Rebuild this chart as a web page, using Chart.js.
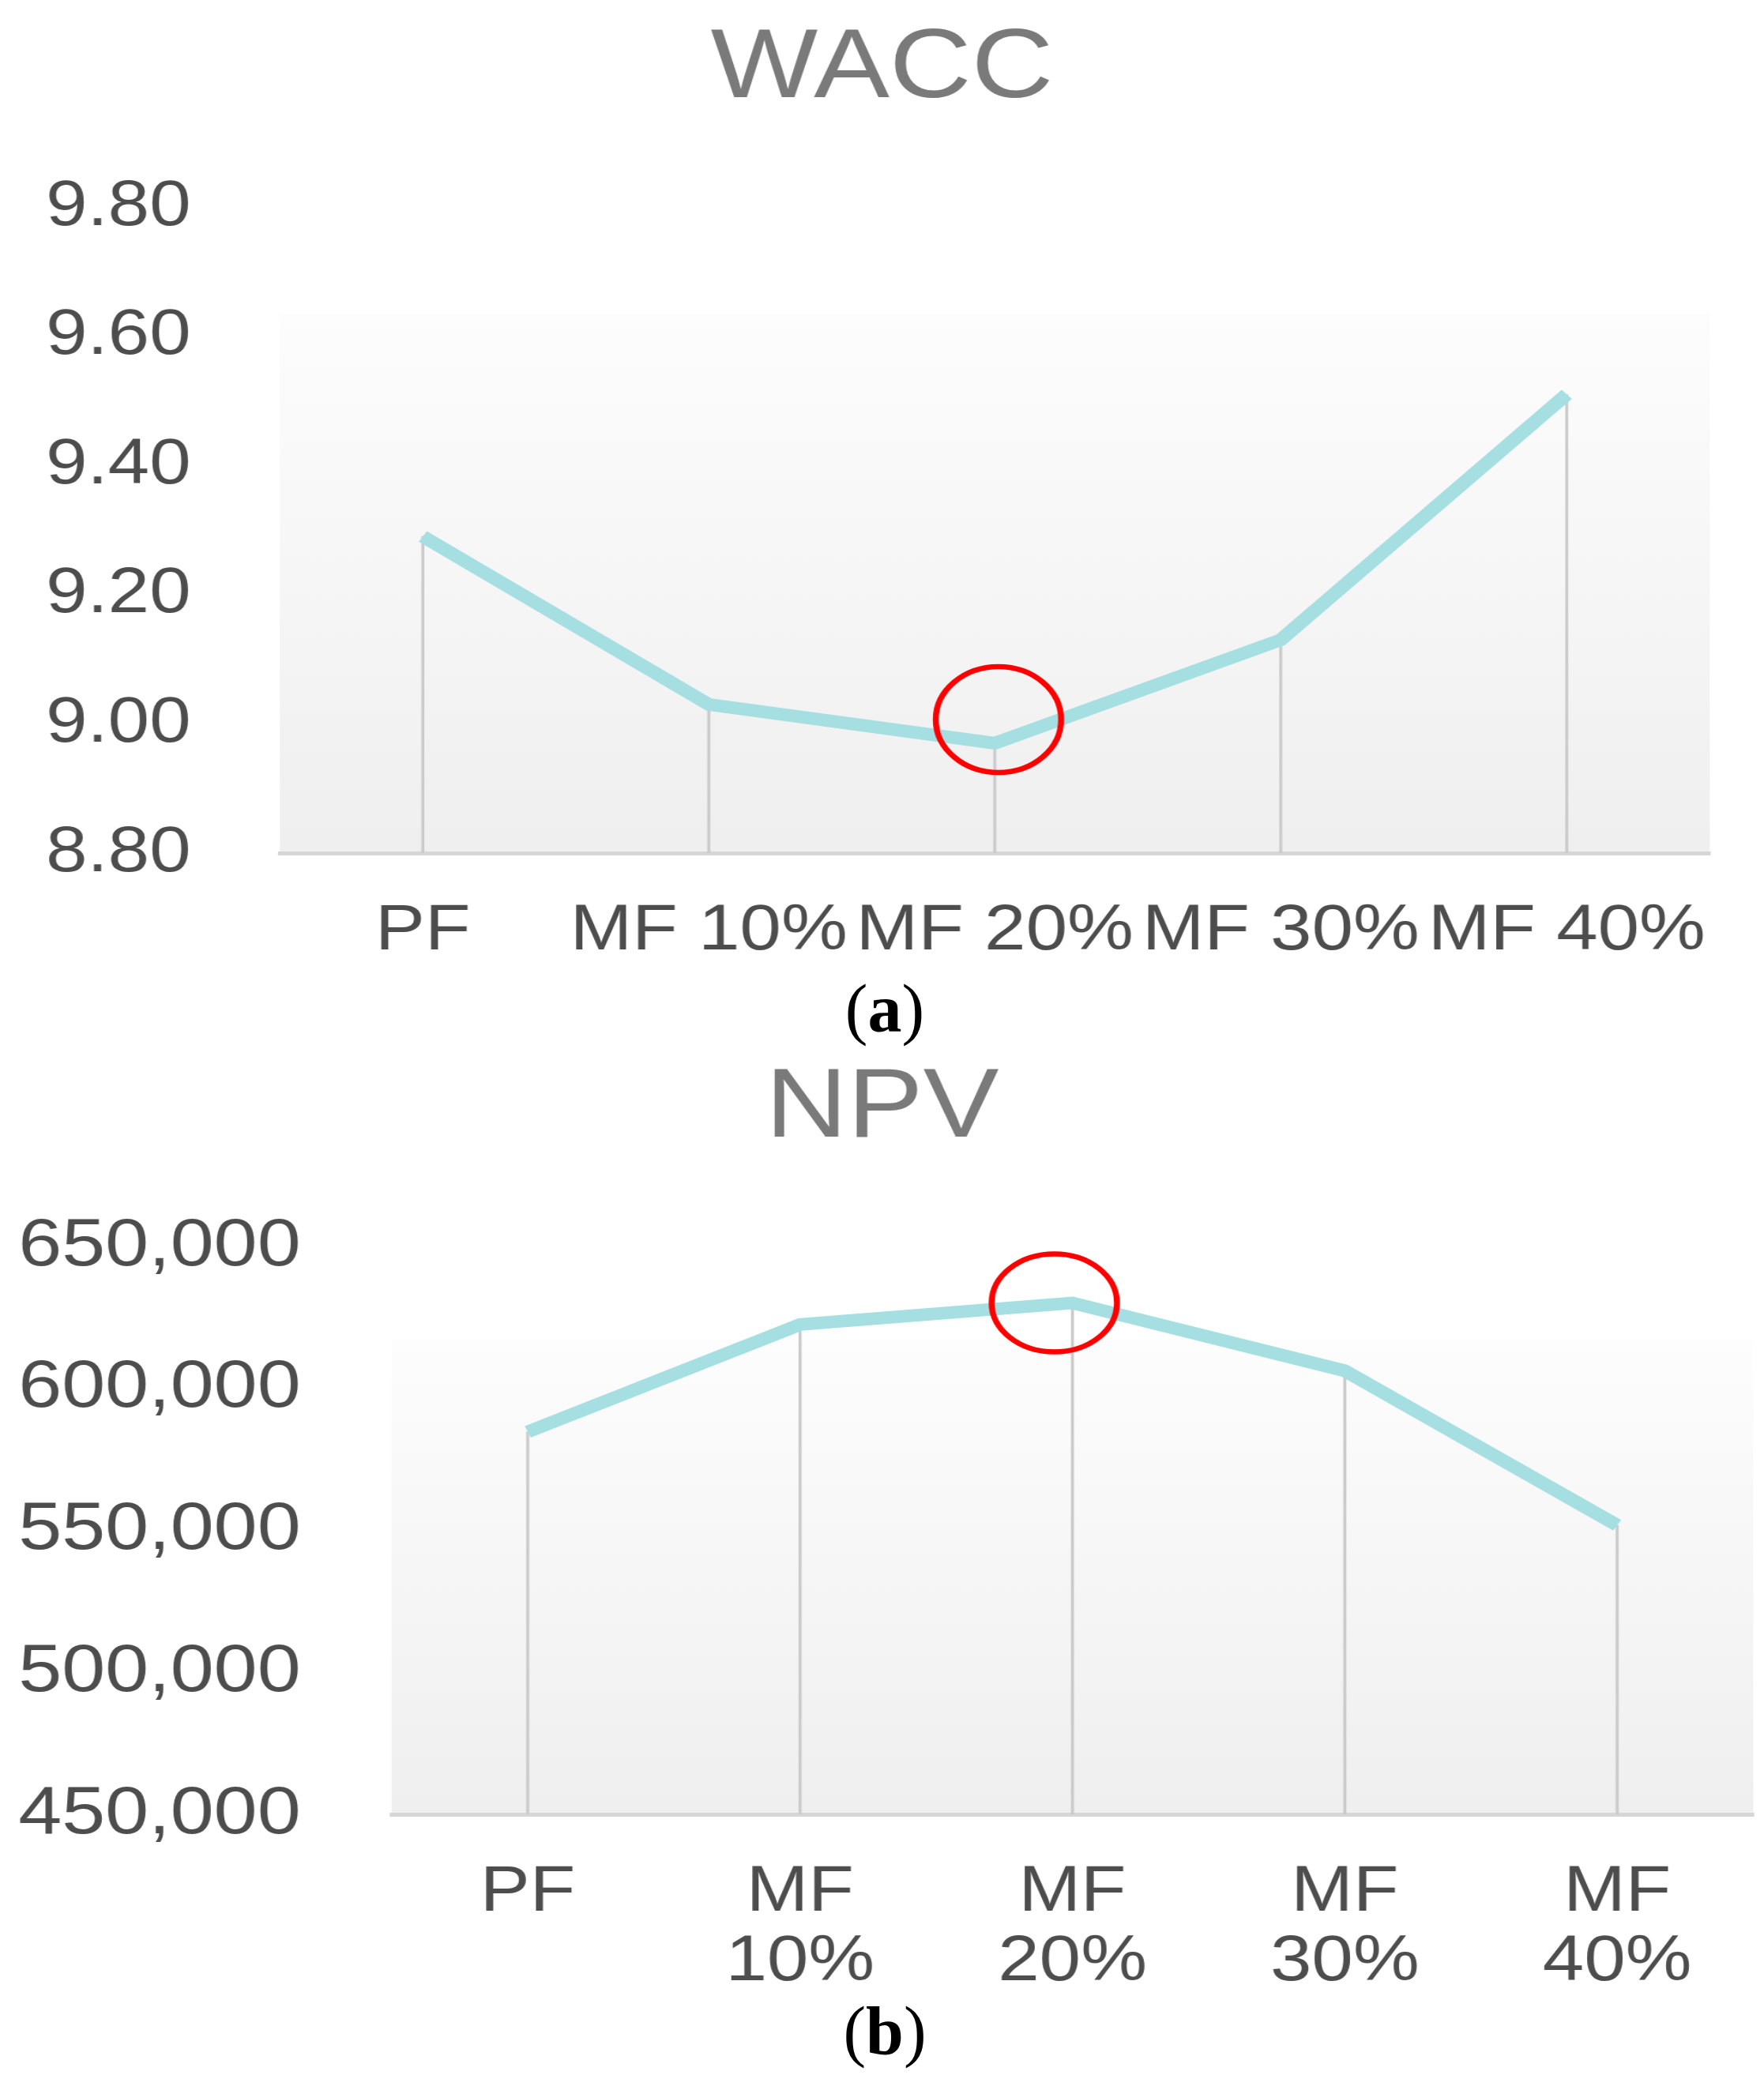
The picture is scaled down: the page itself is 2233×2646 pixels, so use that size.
<!DOCTYPE html>
<html>
<head>
<meta charset="utf-8">
<script src="https://cdn.jsdelivr.net/npm/chart.js@4"></script>
<style>
  body { margin: 0; background: #fff; width: 2233px; height: 2646px; overflow: hidden; position: relative; }
  /* the source figure is stretched sideways, so each panel is drawn narrow and scaled in x */
  .panel { position: absolute; left: 0; width: 1942px; transform: scaleX(1.15); transform-origin: 0 0; }
  .sub { position: absolute; left: 920px; width: 400px; text-align: center; font: 86px/86px "Liberation Serif", "Times New Roman", serif; color: #000; z-index: 2; }
</style>
</head>
<body>
<div class="panel" style="top:0;height:1250px;"><canvas id="chart-wacc"></canvas></div>
<div class="panel" style="top:1300px;height:1346px;"><canvas id="chart-npv"></canvas></div>
<div class="sub" style="top:1234px;">(<b>a</b>)</div>
<div class="sub" style="top:2528px;">(<b>b</b>)</div>

<script>
/* =================================================
   DATA
================================================= */
const waccLabels = ['PF', 'MF 10%', 'MF 20%', 'MF 30%', 'MF 40%'];
const waccValues = [9.29, 9.03, 8.97, 9.13, 9.51];
const waccTicks = { min: 8.8, max: 9.8, step: 0.2 };

const npvLabels = ['PF', ['MF', '10%'], ['MF', '20%'], ['MF', '30%'], ['MF', '40%']];
const npvValues = [584700, 622500, 630100, 606200, 551800];
const npvTicks = { min: 450000, max: 650000, step: 50000 };

/* =================================================
   PLUGINS
================================================= */
const FONT = '"Liberation Sans", Arial, Helvetica, sans-serif';
const LINE_COLOR = '#a6dfe2';

// faint grey gradient behind the plot, starting a bit below the top of the area
const plotBg = {
  id: 'plotBg',
  beforeDraw(chart) {
    const { ctx, chartArea: a } = chart;
    const top = a.top + (a.bottom - a.top) * 0.165;
    const g = ctx.createLinearGradient(0, top, 0, a.bottom);
    g.addColorStop(0, '#fdfdfd');
    g.addColorStop(1, '#efefef');
    ctx.save();
    ctx.fillStyle = g;
    ctx.fillRect(a.left, top, a.right - a.left, a.bottom - top);
    ctx.restore();
  }
};

// red ring around the optimum point
const markPlugin = {
  id: 'mark',
  afterDatasetsDraw(chart, args, opts) {
    const meta = chart.getDatasetMeta(opts.dataset);
    const pt = meta.data[opts.index];
    if (!pt) return;
    const { ctx } = chart;
    ctx.save();
    ctx.strokeStyle = '#ff0000';
    ctx.lineWidth = 6.5;
    ctx.beginPath();
    ctx.ellipse(pt.x + opts.dx, pt.y + opts.dy, opts.rx, opts.ry, 0, 0, Math.PI * 2);
    ctx.stroke();
    ctx.restore();
  }
};

function makeChart(id, labels, values, t, cfg) {
  const ctx = document.getElementById(id);
  return new Chart(ctx, {
    type: 'line',
    data: {
      labels,
      datasets: [
        { type: 'line', data: values, borderColor: LINE_COLOR, borderWidth: 16, pointRadius: 0,
          tension: 0, borderJoinStyle: 'miter', borderCapStyle: 'butt', fill: false, order: 1 },
        { type: 'bar', data: values, backgroundColor: '#cbcbcb', barThickness: 2.6, order: 2 }
      ]
    },
    options: {
      responsive: true, maintainAspectRatio: false, animation: false,
      layout: { padding: 0 },
      plugins: {
        legend: { display: false },
        tooltip: { enabled: false },
        title: {
          display: true, text: cfg.title, color: '#7a7a7a',
          font: { family: FONT, size: 125, weight: 'normal', lineHeight: 1 },
          padding: { top: cfg.titleTop, bottom: cfg.titleBottom }
        },
        mark: cfg.mark
      },
      scales: {
        x: {
          offset: true,
          grid: { display: false },
          border: { display: true, color: '#d6d6d6', width: 5 },
          ticks: { color: '#4d4d4d', padding: 48, maxRotation: 0, autoSkip: false,
                   font: { family: FONT, size: 82, lineHeight: 1.07 } },
          afterFit(s) { s.height = cfg.xHeight; s.paddingLeft = 0; s.paddingRight = 0; }
        },
        y: {
          min: t.min, max: t.max,
          grid: { display: false },
          border: { display: false },
          ticks: { stepSize: t.step, color: '#4d4d4d', padding: cfg.yPad,
                   font: { family: FONT, size: cfg.ySize }, callback: cfg.fmt },
          afterFit(s) { s.width = cfg.yWidth; s.paddingTop = 0; s.paddingBottom = 0; }
        },
        // empty right-hand strip so the title stays centred on the page
        gap: {
          type: 'linear', position: 'right',
          grid: { display: false }, border: { display: false }, ticks: { display: false },
          afterFit(s) { s.width = cfg.rightGap; s.paddingTop = 0; s.paddingBottom = 0; }
        }
      }
    },
    plugins: [plotBg, markPlugin]
  });
}

makeChart('chart-wacc', waccLabels, waccValues, waccTicks, {
  title: 'WACC', titleTop: 26, titleBottom: 111, rightGap: 60,
  xHeight: 170, yWidth: 308, yPad: 90, ySize: 82,
  fmt: v => Number(v).toFixed(2),
  mark: { dataset: 0, index: 2, dx: 4, dy: -30, rx: 69, ry: 67 }
});

makeChart('chart-npv', npvLabels, npvValues, npvTicks, {
  title: 'NPV', titleTop: 42, titleBottom: 111, rightGap: 12,
  xHeight: 349, yWidth: 431, yPad: 92, ySize: 86,
  fmt: v => Number(v).toLocaleString('en-US'),
  mark: { dataset: 0, index: 2, dx: -20, dy: 0, rx: 69, ry: 62 }
});
</script>
</body>
</html>
